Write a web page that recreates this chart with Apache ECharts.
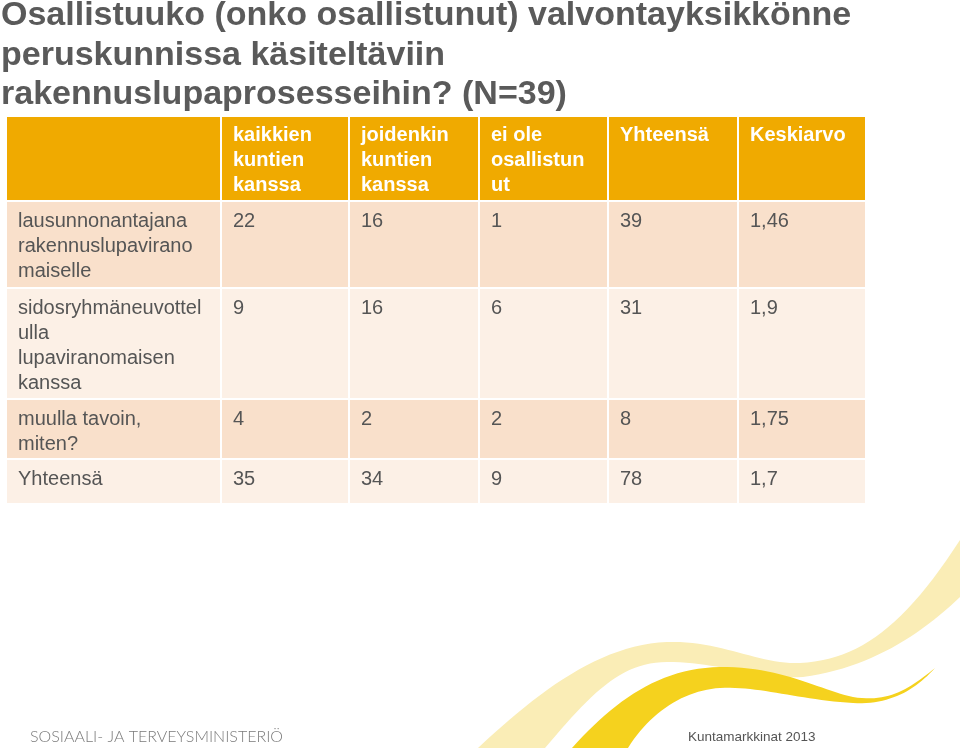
<!DOCTYPE html>
<html><head><meta charset="utf-8">
<script src="https://cdn.jsdelivr.net/npm/echarts@6/dist/echarts.min.js"></script>
<style>html,body{margin:0;padding:0;background:#fff}#main{width:960px;height:748px}</style>
</head><body><div id="main"></div>
<script>
// ---- data ----
const titleLines = ['Osallistuuko (onko osallistunut) valvontayksikkönne', 'peruskunnissa käsiteltäviin', 'rakennuslupaprosesseihin? (N=39)'];
const columnHeaders = ['', 'kaikkien\nkuntien\nkanssa', 'joidenkin\nkuntien\nkanssa', 'ei ole\nosallistun\nut', 'Yhteensä', 'Keskiarvo'];
const rowLabels = ['lausunnonantajana\nrakennuslupavirano\nmaiselle', 'sidosryhmäneuvottel\nulla\nlupaviranomaisen\nkanssa', 'muulla tavoin,\nmiten?', 'Yhteensä'];
const kaikkienKanssa = [22, 9, 4, 35];
const joidenkinKanssa = [16, 16, 2, 34];
const eiOleOsallistunut = [1, 6, 2, 9];
const yhteensa = [39, 31, 8, 78];
const keskiarvo = [1.46, 1.9, 1.75, 1.7];
const footerLeft = 'SOSIAALI- JA TERVEYSMINISTERIÖ';
const footerRight = 'Kuntamarkkinat 2013';

// ---- layout (axis units) ----
const colEdges = [0, 215, 343, 473, 602, 732, 860];
const rowEdges = [0, 85, 172, 283, 343, 388];
const GAP = 2;
const HEADER_FILL = '#F0AA00';
const ROW_FILLS = ['#F9E0CB', '#FCF0E6'];

const fmt = v => String(v).replace('.', ',');
const valueCols = [kaikkienKanssa, joidenkinKanssa, eiOleOsallistunut, yhteensa, keskiarvo.map(fmt)];

const cells = [];
columnHeaders.forEach((h, c) => cells.push({c, r: 0, text: h, header: true}));
rowLabels.forEach((lab, i) => {
  cells.push({c: 0, r: i + 1, text: lab});
  valueCols.forEach((col, j) => cells.push({c: j + 1, r: i + 1, text: String(col[i])}));
});

function renderItem(params, api) {
  const cell = cells[params.dataIndex];
  const c = api.value(0), r = api.value(1);
  const p0 = api.coord([colEdges[c], rowEdges[r]]);
  const p1 = api.coord([colEdges[c + 1] - GAP, rowEdges[r + 1] - GAP]);
  const x = Math.min(p0[0], p1[0]), y = Math.min(p0[1], p1[1]);
  const w = Math.abs(p1[0] - p0[0]), h = Math.abs(p1[1] - p0[1]);
  const fill = cell.header ? HEADER_FILL : ROW_FILLS[(r - 1) % 2];
  return {
    type: 'group',
    children: [
      {type: 'rect', shape: {x, y, width: w, height: h}, style: {fill}},
      {type: 'text', x: x + 11, y: y + (cell.header ? 6 : 7), style: {
        text: cell.text, fill: cell.header ? '#ffffff' : '#555555',
        fontFamily: 'Liberation Sans', fontSize: 20, fontWeight: cell.header ? 'bold' : 'normal',
        lineHeight: 25, align: 'left', verticalAlign: 'top'
      }}
    ]
  };
}

// decorative swoosh outlines (cubic bezier segments sampled to polygons)
function bez(start, segs) {
  const pts = [start.slice()];
  let cur = start;
  segs.forEach(s => {
    if (s.length === 2) { pts.push(s.slice()); cur = s; return; }
    const [x1, y1, x2, y2, x, y] = s;
    for (let i = 1; i <= 24; i++) {
      const t = i / 24, u = 1 - t;
      pts.push([
        u*u*u*cur[0] + 3*u*u*t*x1 + 3*u*t*t*x2 + t*t*t*x,
        u*u*u*cur[1] + 3*u*u*t*y1 + 3*u*t*t*y2 + t*t*t*y
      ]);
    }
    cur = [x, y];
  });
  return pts;
}
const lightSwoosh = bez([478, 748], [
  [540, 690, 600, 645, 667, 642], [720, 640, 760, 665, 800, 663], [860, 660, 905, 625, 960, 540],
  [960, 597], [920, 635, 870, 668, 803, 677], [760, 680, 720, 662, 667, 662], [620, 662, 590, 695, 545, 748]
]);
const darkSwoosh = bez([572, 748], [
  [615, 700, 660, 668, 720, 667], [780, 666, 820, 690, 853, 697], [890, 703, 910, 688, 935, 668],
  [915, 690, 890, 705, 853, 703], [800, 700, 760, 686, 720, 688], [685, 690, 650, 712, 628, 748]
]);

const chart = echarts.init(document.getElementById('main'), null, {renderer: 'canvas'});
chart.setOption({
  backgroundColor: '#ffffff',
  animation: false,
  title: {
    text: titleLines.join('\n'), left: 1, top: -4, padding: 0,
    textStyle: {fontFamily: 'Liberation Sans', fontSize: 34, lineHeight: 39.5, color: '#5a5a5a', fontWeight: 'bold'}
  },
  grid: {left: 7, top: 117, width: 858, height: 386},
  xAxis: {type: 'value', min: 0, max: colEdges[colEdges.length - 1] - GAP, show: false},
  yAxis: {type: 'value', min: 0, max: rowEdges[rowEdges.length - 1] - GAP, inverse: true, show: false},
  graphic: [
    {type: 'polygon', z: -1, shape: {points: lightSwoosh}, style: {fill: '#FAEDB6'}},
    {type: 'polygon', z: -1, shape: {points: darkSwoosh}, style: {fill: '#F5D21E'}},
    {type: 'text', left: 30, top: 729, style: {text: footerLeft, fontFamily: 'Lato', fontWeight: 300, fontSize: 16, fill: '#7b7b7b'}},
    {type: 'text', left: 688, top: 730, style: {text: footerRight, fontFamily: 'Liberation Sans', fontSize: 13.5, fill: '#555555'}}
  ],
  series: [{
    type: 'custom', coordinateSystem: 'cartesian2d', renderItem,
    data: cells.map(cl => [cl.c, cl.r]), silent: true
  }]
});
</script></body></html>
